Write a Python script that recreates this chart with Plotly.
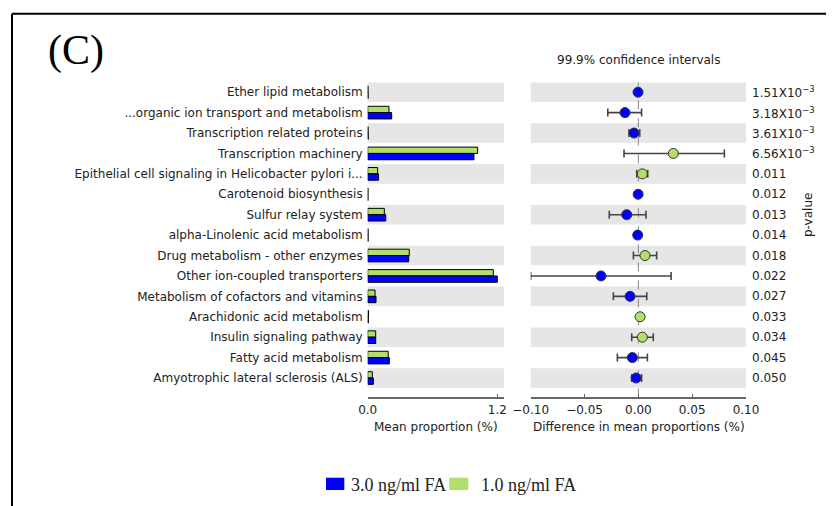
import plotly.graph_objects as go

OFF = 8  # page body margin offset of the rendered figure
W, H = 834 - OFF, 506 - OFF

categories = [
    "Ether lipid metabolism",
    "...organic ion transport and metabolism",
    "Transcription related proteins",
    "Transcription machinery",
    "Epithelial cell signaling in Helicobacter pylori i...",
    "Carotenoid biosynthesis",
    "Sulfur relay system",
    "alpha-Linolenic acid metabolism",
    "Drug metabolism - other enzymes",
    "Other ion-coupled transporters",
    "Metabolism of cofactors and vitamins",
    "Arachidonic acid metabolism",
    "Insulin signaling pathway",
    "Fatty acid metabolism",
    "Amyotrophic lateral sclerosis (ALS)",
]
# mean proportions (%)
prop_3ng = [0.004, 0.222, 0.005, 0.984, 0.100, 0.003, 0.167, 0.004, 0.380, 1.200, 0.077, 0.006, 0.074, 0.200, 0.052]
prop_1ng = [0.003, 0.197, 0.004, 1.018, 0.092, 0.003, 0.154, 0.004, 0.385, 1.163, 0.068, 0.008, 0.074, 0.190, 0.043]
# difference in mean proportions (%) with 99.9% CI
diff_mean = [-0.0003, -0.0124, -0.0040, 0.0325, 0.0037, -0.0002, -0.0108, -0.0006, 0.0062, -0.0347, -0.0077, 0.0016, 0.0037, -0.0056, -0.0021]
ci_low = [-0.0008, -0.0284, -0.0087, -0.0133, -0.0015, -0.0006, -0.0270, -0.0010, -0.0046, -0.1000, -0.0232, 0.0012, -0.0062, -0.0195, -0.0062]
ci_high = [0.0002, 0.0030, 0.0013, 0.0799, 0.0087, 0.0002, 0.0071, -0.0002, 0.0170, 0.0304, 0.0078, 0.0020, 0.0139, 0.0084, 0.0030]
p_values = ["1.51X10<sup>\u22123</sup>", "3.18X10<sup>\u22123</sup>", "3.61X10<sup>\u22123</sup>", "6.56X10<sup>\u22123</sup>",
            "0.011", "0.012", "0.013", "0.014", "0.018", "0.022", "0.027", "0.033", "0.034", "0.045", "0.050"]
left_ticks = [0.0, 1.2]
left_ticktext = ["0.0", "1.2"]
right_ticks = [-0.10, -0.05, 0.0, 0.05, 0.10]
right_ticktext = ["\u22120.10", "\u22120.05", "0.00", "0.05", "0.10"]
group_names = ["3.0 ng/ml FA", "1.0 ng/ml FA"]

BLUE = "#0000ff"
GREEN = "#b2df6a"
BAND = "#e6e6e6"
TXT = "#222222"
AX = "#666666"
SANS = "DejaVu Sans"
SERIF = "Liberation Serif"

ypos = list(range(len(categories)))

def fx(p):
    return (p - OFF) / W

def fy(p):
    return 1 - (p - OFF) / H

fig = go.Figure()

bw = 0.31
fig.add_trace(go.Bar(x=prop_1ng, y=ypos, orientation="h", width=bw, offset=-bw,
                     marker=dict(color=GREEN, line=dict(color="black", width=1)),
                     xaxis="x", yaxis="y", showlegend=False, hoverinfo="skip"))
fig.add_trace(go.Bar(x=prop_3ng, y=ypos, orientation="h", width=bw, offset=0,
                     marker=dict(color=BLUE, line=dict(color="black", width=1)),
                     xaxis="x", yaxis="y", showlegend=False, hoverinfo="skip"))

colors = [BLUE if d < 0 else GREEN for d in diff_mean]
err_plus = [h - d for h, d in zip(ci_high, diff_mean)]
err_minus = [d - l for d, l in zip(diff_mean, ci_low)]
fig.add_trace(go.Scatter(x=diff_mean, y=ypos, mode="markers",
                         marker=dict(color=colors, size=10, line=dict(color="#333333", width=1)),
                         error_x=dict(type="data", symmetric=False, array=err_plus, arrayminus=err_minus,
                                      color="#444444", thickness=1.6, width=4),
                         xaxis="x2", yaxis="y2", showlegend=False, hoverinfo="skip"))

shapes = []
for i in ypos:
    if i % 2 == 0:
        for xr, yr in (("x domain", "y"), ("x2 domain", "y2")):
            shapes.append(dict(type="rect", xref=xr, yref=yr, x0=0, x1=1, y0=i - 0.48, y1=i + 0.48,
                               fillcolor=BAND, line=dict(width=0), layer="below"))
shapes.append(dict(type="line", xref="x2", yref="y2 domain", x0=0, x1=0, y0=0, y1=1,
                   line=dict(color="#888888", width=1, dash="dash"), layer="below"))
# frame
shapes.append(dict(type="line", xref="paper", yref="paper", x0=fx(12), x1=fx(12), y0=-0.05, y1=fy(13.8),
                   line=dict(color="black", width=2)))
shapes.append(dict(type="line", xref="paper", yref="paper", x0=fx(12), x1=1.05, y0=fy(13.8), y1=fy(13.8),
                   line=dict(color="black", width=2)))
# legend swatches
shapes.append(dict(type="rect", xref="paper", yref="paper", x0=fx(326), x1=fx(344.3), y0=fy(490), y1=fy(477.7),
                   fillcolor=BLUE, line=dict(width=0)))
shapes.append(dict(type="rect", xref="paper", yref="paper", x0=fx(449.3), x1=fx(468.3), y0=fy(490), y1=fy(477.7),
                   fillcolor=GREEN, line=dict(width=0)))

annotations = []
for i, p in enumerate(p_values):
    annotations.append(dict(xref="paper", yref="y", x=fx(750), y=i, text=p, showarrow=False,
                            xanchor="left", yanchor="middle", font=dict(family=SANS, size=12, color=TXT)))
annotations += [
    dict(xref="paper", yref="paper", x=fx(808), y=fy(215), text="p-value", textangle=-90, showarrow=False,
         xanchor="center", yanchor="middle", font=dict(family=SANS, size=12, color=TXT)),
    dict(xref="paper", yref="paper", x=fx(638.5), y=fy(60), text="99.9% confidence intervals", showarrow=False,
         xanchor="center", yanchor="middle", font=dict(family=SANS, size=12, color=TXT)),
    dict(xref="paper", yref="paper", x=fx(436), y=fy(426.7), text="Mean proportion (%)", showarrow=False,
         xanchor="center", yanchor="middle", font=dict(family=SANS, size=12, color=TXT)),
    dict(xref="paper", yref="paper", x=fx(638.5), y=fy(426.7), text="Difference in mean proportions (%)", showarrow=False,
         xanchor="center", yanchor="middle", font=dict(family=SANS, size=12, color=TXT)),
    dict(xref="paper", yref="paper", x=fx(76), y=fy(51), text="(C)", showarrow=False,
         xanchor="center", yanchor="middle", font=dict(family=SERIF, size=42, color="black")),
    dict(xref="paper", yref="paper", x=fx(349), y=fy(484.5), text=group_names[0], showarrow=False,
         xanchor="left", yanchor="middle", font=dict(family=SERIF, size=18, color=TXT)),
    dict(xref="paper", yref="paper", x=fx(479), y=fy(484.5), text=group_names[1], showarrow=False,
         xanchor="left", yanchor="middle", font=dict(family=SERIF, size=18, color=TXT)),
]

y_top, y_bot = 82.0, 397.4
yrange = [14.95, -0.5]

fig.update_layout(
    template="none",
    width=W, height=H, margin=dict(l=0, r=0, t=0, b=0, pad=0), autosize=False,
    paper_bgcolor="white", plot_bgcolor="white", barmode="overlay",
    shapes=shapes, annotations=annotations, showlegend=False,
    xaxis=dict(domain=[fx(367.7), fx(504)], range=[0, (504 - 367.7) / 108.0], anchor="y", automargin=False,
               tickvals=left_ticks, ticktext=left_ticktext, ticks="inside", ticklen=4, tickcolor=AX,
               showline=True, linecolor=AX, linewidth=1.5, showgrid=False, zeroline=False,
               tickfont=dict(family=SANS, size=12, color=TXT)),
    yaxis=dict(domain=[fy(y_bot), fy(y_top)], range=yrange, anchor="x", automargin=False,
               tickvals=ypos, ticktext=categories, ticks="", showline=False, showgrid=False, zeroline=False,
               ticklabelstandoff=4, tickfont=dict(family=SANS, size=12, color=TXT)),
    xaxis2=dict(domain=[fx(530.7), fx(746)], range=[-0.1, 0.1], anchor="y2", automargin=False,
                tickvals=right_ticks, ticktext=right_ticktext, ticks="inside", ticklen=4, tickcolor=AX,
                showline=True, linecolor=AX, linewidth=1.5, showgrid=False, zeroline=False,
                tickfont=dict(family=SANS, size=12, color=TXT)),
    yaxis2=dict(domain=[fy(y_bot), fy(y_top)], range=yrange, anchor="x2", matches="y", automargin=False,
                showticklabels=False, ticks="", showline=False, showgrid=False, zeroline=False),
)

fig.write_html("out.html")
